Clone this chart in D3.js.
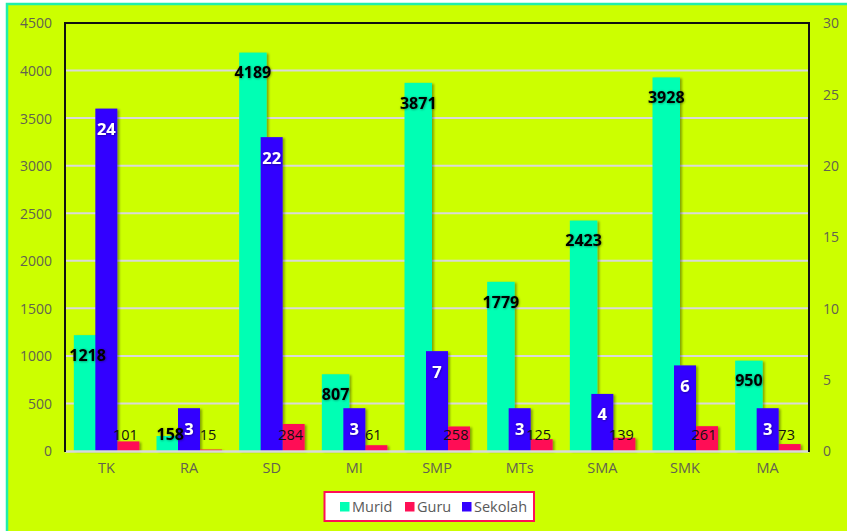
<!DOCTYPE html>
<html>
<head>
<meta charset="utf-8">
<script src="https://cdn.jsdelivr.net/npm/d3@7"></script>
<style>
  html, body { margin: 0; padding: 0; background: #ffffff; }
  svg { display: block; }
</style>
</head>
<body>
<svg id="chart" width="847" height="531"></svg>
<script>
const categories = ["TK", "RA", "SD", "MI", "SMP", "MTs", "SMA", "SMK", "MA"];
const murid   = [1218, 158, 4189, 807, 3871, 1779, 2423, 3928, 950];
const guru    = [101, 15, 284, 61, 258, 125, 139, 261, 73];
const sekolah = [24, 3, 22, 3, 7, 3, 4, 6, 3];
const leftTicks  = [0, 500, 1000, 1500, 2000, 2500, 3000, 3500, 4000, 4500];
const rightTicks = [0, 5, 10, 15, 20, 25, 30];
const seriesNames = ["Murid", "Guru", "Sekolah"];

(function () {
const colors = { Murid: "#00FFB4", Guru: "#FF0F55", Sekolah: "#3300FF" };
const font = "'Open Sans', 'Noto Sans', sans-serif";
const axisColor = "#626250";

const svg = d3.select("#chart");
const defs = svg.append("defs");
const f = defs.append("filter").attr("id", "shadow").attr("x", "-20%").attr("y", "-20%").attr("width", "150%").attr("height", "150%");
f.append("feDropShadow").attr("dx", 2).attr("dy", 1).attr("stdDeviation", 1.3)
  .attr("flood-color", "#000").attr("flood-opacity", 0.35);
const tf = defs.append("filter").attr("id", "tshadow").attr("x", "-20%").attr("y", "-30%").attr("width", "150%").attr("height", "170%");
tf.append("feDropShadow").attr("dx", 0.5).attr("dy", 0.5).attr("stdDeviation", 0.8)
  .attr("flood-color", "#000").attr("flood-opacity", 0.45);

// chart background with border
svg.append("rect").attr("x", 7).attr("y", 4).attr("width", 845).attr("height", 535)
  .attr("fill", "#CCFF00").attr("stroke", "#22EEAA").attr("stroke-width", 2.5);

const pLeft = 65, pRight = 809, pTop = 23, pBottom = 451;
const x = d3.scaleBand().domain(categories).range([pLeft, pRight]).padding(0);
const yL = d3.scaleLinear().domain([0, 4500]).range([pBottom, pTop]);
const yR = d3.scaleLinear().domain([0, 30]).range([pBottom, pTop]);

// gridlines
svg.append("g").selectAll("line").data(leftTicks.filter(t => t > 0 && t < 4500)).join("line")
  .attr("x1", pLeft).attr("x2", pRight).attr("y1", d => yL(d)).attr("y2", d => yL(d))
  .attr("stroke", "#D9D9D9").attr("stroke-width", 2);

// left axis
const axL = svg.append("g").attr("transform", `translate(${pLeft - 13},0)`)
  .call(d3.axisLeft(yL).tickValues(leftTicks).tickFormat(d3.format("d")).tickSize(0).tickPadding(0));
axL.select(".domain").remove();
axL.selectAll("text").attr("font-family", font).attr("font-size", 14).attr("fill", axisColor).attr("dy", "0.35em");

// right axis
const axR = svg.append("g").attr("transform", `translate(${pRight + 14},0)`)
  .call(d3.axisRight(yR).tickValues(rightTicks).tickFormat(d3.format("d")).tickSize(0).tickPadding(0));
axR.select(".domain").remove();
axR.selectAll("text").attr("font-family", font).attr("font-size", 14).attr("fill", axisColor).attr("dy", "0.35em");

// bottom axis labels
const axB = svg.append("g").attr("transform", `translate(0,${pBottom + 12})`)
  .call(d3.axisBottom(x).tickSize(0).tickPadding(0));
axB.select(".domain").remove();
axB.selectAll("text").attr("font-family", font).attr("font-size", 14.5).attr("fill", axisColor).attr("dy", "0.71em");

const cx = d => x(d) + x.bandwidth() / 2;
const bars = svg.append("g").attr("filter", "url(#shadow)");

// Murid (primary)
bars.append("g").selectAll("rect").data(categories).join("rect")
  .attr("x", d => cx(d) - 32.5).attr("width", 27.5)
  .attr("y", (d, i) => yL(murid[i])).attr("height", (d, i) => pBottom - yL(murid[i]))
  .attr("fill", colors.Murid);
// Guru (primary)
bars.append("g").selectAll("rect").data(categories).join("rect")
  .attr("x", d => cx(d) + 11).attr("width", 22)
  .attr("y", (d, i) => yL(guru[i])).attr("height", (d, i) => pBottom - yL(guru[i]))
  .attr("fill", colors.Guru);
// Sekolah (secondary)
bars.append("g").selectAll("rect").data(categories).join("rect")
  .attr("x", d => cx(d) - 11).attr("width", 22)
  .attr("y", (d, i) => yR(sekolah[i])).attr("height", (d, i) => pBottom - yR(sekolah[i]))
  .attr("fill", colors.Sekolah);

// axis line bottom
svg.append("line").attr("x1", pLeft).attr("x2", pRight).attr("y1", pBottom + 0.5).attr("y2", pBottom + 0.5)
  .attr("stroke", "#D9D9D9").attr("stroke-width", 2.5);
// plot frame (left, top, right)
svg.append("path").attr("d", `M${pLeft},${pBottom + 1}V${pTop}H${pRight}V${pBottom + 1}`)
  .attr("fill", "none").attr("stroke", "#111").attr("stroke-width", 2);

// labels
const labels = svg.append("g").attr("font-family", font).attr("text-anchor", "middle");
labels.append("g").selectAll("text").data(categories).join("text")
  .attr("x", d => cx(d) - 18.75)
  .attr("y", (d, i) => Math.min(yL(murid[i]) + 20, 434))
  .attr("dy", "0.36em").attr("font-size", 16).attr("font-weight", "bold").attr("fill", "#000")
  .attr("filter", "url(#tshadow)")
  .text((d, i) => murid[i]);
labels.append("g").selectAll("text").data(categories).join("text")
  .attr("x", d => cx(d))
  .attr("y", (d, i) => yR(sekolah[i]) + 20.5)
  .attr("dy", "0.36em").attr("font-size", 16.5).attr("font-weight", "bold").attr("fill", "#fff")
  .attr("filter", "url(#tshadow)")
  .text((d, i) => sekolah[i]);
labels.append("g").selectAll("text").data(categories).join("text")
  .attr("x", d => cx(d) + 22 - 3)
  .attr("y", pBottom - 16)
  .attr("dy", "0.36em").attr("font-size", 14.5).attr("fill", "#111")
  .text((d, i) => guru[i]);

// legend
const lg = svg.append("g");
lg.append("rect").attr("x", 324.5).attr("y", 492).attr("width", 209.5).attr("height", 29)
  .attr("fill", "#fff").attr("stroke", "#FF0F55").attr("stroke-width", 2);
const legendX = [340, 405, 462];
seriesNames.forEach((s, i) => {
  lg.append("rect").attr("x", legendX[i]).attr("y", 502).attr("width", 9.5).attr("height", 9.5).attr("fill", colors[s]);
  lg.append("text").attr("x", legendX[i] + 12).attr("y", 507).attr("dy", "0.36em")
    .attr("font-family", font).attr("font-size", 14.5).attr("fill", "#595959").text(s);
});
})();
</script>
</body>
</html>
